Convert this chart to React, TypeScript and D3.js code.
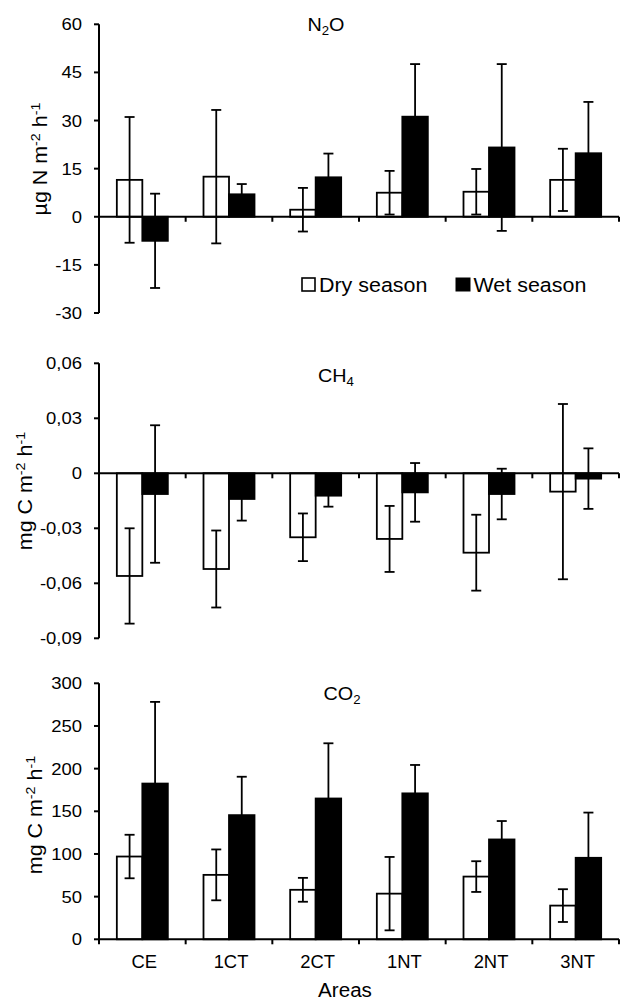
import React from "react";
import * as d3 from "d3";

const categories = ["CE", "1CT", "2CT", "1NT", "2NT", "3NT"];

const n2oDry = [11.5, 12.5, 2.2, 7.5, 7.8, 11.5];
const n2oDryErr = [19.6, 20.8, 6.8, 6.8, 7.1, 9.7];
const n2oWet = [-7.5, 7.0, 12.3, 31.2, 21.6, 19.8];
const n2oWetErr = [14.7, 3.2, 7.4, 16.4, 26.0, 16.0];

const ch4Dry = [-0.056, -0.0522, -0.0349, -0.0358, -0.0433, -0.01];
const ch4DryErr = [0.026, 0.021, 0.013, 0.018, 0.0207, 0.0478];
const ch4Wet = [-0.0113, -0.014, -0.0122, -0.0104, -0.0113, -0.0029];
const ch4WetErr = [0.0375, 0.0118, 0.006, 0.016, 0.0138, 0.0165];

const co2Dry = [97, 75.5, 58, 53.5, 73.5, 39.5];
const co2DryErr = [25.5, 29.8, 14, 43, 18, 19.2];
const co2Wet = [182.5, 145.5, 165, 171, 117, 95.5];
const co2WetErr = [95.7, 45, 64.7, 33.3, 21.6, 53];

const n2oTicks = [-30, -15, 0, 15, 30, 45, 60];
const ch4Ticks = [-0.09, -0.06, -0.03, 0, 0.03, 0.06];
const co2Ticks = [0, 50, 100, 150, 200, 250, 300];

const legendLabels = ["Dry season", "Wet season"];
const xTitle = "Areas";

const FONT = "'Liberation Sans', Arial, Helvetica, sans-serif";

function T({ x, y, size, anchor = "middle", rot = false, sx = 1.1, children }: any) {
  return (
    <text
      transform={`translate(${x},${y})${rot ? " rotate(-90)" : ""} scale(${sx},1)`}
      fontSize={size}
      textAnchor={anchor}
      fontFamily={FONT}
      fill="#000"
    >
      {children}
    </text>
  );
}

const fmtN = (v: number) => String(v);
const fmtC = (v: number) =>
  v === 0 ? "0" : (v < 0 ? "-" : "") + Math.abs(v).toFixed(2).replace(".", ",");

const x = d3.scaleBand<string>().domain(categories).range([99, 619]).padding(0);
const barW = 25.5;

function Panel({ top, bottom, domain, ticks, fmt, dry, dryErr, wet, wetErr, showCats }: any) {
  const y = d3.scaleLinear().domain(domain).range([bottom, top]);
  const y0 = y(0);
  const x0 = x.range()[0];
  const x1 = x.range()[1];
  const boundaries = categories.map((c) => (x(c) as number) + x.bandwidth());
  boundaries.unshift(x0);
  return (
    <g>
      {categories.map((c, i) => {
        const cx = (x(c) as number) + x.bandwidth() / 2;
        const dv = dry[i];
        const wv = wet[i];
        return (
          <g key={c}>
            <rect
              x={cx - barW}
              y={Math.min(y(dv), y0)}
              width={barW}
              height={Math.abs(y(dv) - y0)}
              fill="#fff"
              stroke="#000"
              strokeWidth={1.8}
            />
            <rect
              x={cx}
              y={Math.min(y(wv), y0)}
              width={barW}
              height={Math.abs(y(wv) - y0)}
              fill="#000"
              stroke="#000"
              strokeWidth={1.8}
            />
          </g>
        );
      })}
      {categories.map((c, i) => {
        const cx = (x(c) as number) + x.bandwidth() / 2;
        const items = [
          { xc: cx - barW / 2, v: dry[i], e: dryErr[i] },
          { xc: cx + barW / 2, v: wet[i], e: wetErr[i] },
        ];
        return (
          <g key={"e" + c} stroke="#000" strokeWidth={1.8}>
            {items.map((it, k) => (
              <g key={k}>
                <line x1={it.xc} x2={it.xc} y1={y(it.v + it.e)} y2={y(it.v - it.e)} />
                <line x1={it.xc - 5} x2={it.xc + 5} y1={y(it.v + it.e)} y2={y(it.v + it.e)} />
                <line x1={it.xc - 5} x2={it.xc + 5} y1={y(it.v - it.e)} y2={y(it.v - it.e)} />
              </g>
            ))}
          </g>
        );
      })}
      {/* y axis */}
      <line x1={x0} x2={x0} y1={top} y2={bottom} stroke="#000" strokeWidth={2} />
      {ticks.map((t: number) => (
        <g key={t}>
          <line x1={x0 - 5} x2={x0} y1={y(t)} y2={y(t)} stroke="#000" strokeWidth={2} />
          <T x={82} y={y(t) + 6} size={16.8} anchor="end" sx={1.1}>
            {fmt(t)}
          </T>
        </g>
      ))}
      {/* x axis at zero */}
      <line x1={x0} x2={x1} y1={y0} y2={y0} stroke="#000" strokeWidth={2} />
      {boundaries.map((b: number, i: number) => (
        <line key={i} x1={b} x2={b} y1={y0} y2={y0 + 5} stroke="#000" strokeWidth={2} />
      ))}
      {showCats &&
        categories.map((c) => (
          <T key={c} x={(x(c) as number) + x.bandwidth() / 2 + 2} y={968} size={17.5} sx={1.05}>
            {c}
          </T>
        ))}
    </g>
  );
}

export default function App() {
  return (
    <svg
      width={627}
      height={1002}
      style={{ position: "absolute", left: 0, top: 0, background: "#fff" }}
    >
      <rect x={0} y={0} width={627} height={1002} fill="#fff" />
      <Panel
        top={24.3}
        bottom={313}
        domain={[-30, 60]}
        ticks={n2oTicks}
        fmt={fmtN}
        dry={n2oDry}
        dryErr={n2oDryErr}
        wet={n2oWet}
        wetErr={n2oWetErr}
      />
      <Panel
        top={363.3}
        bottom={638.3}
        domain={[-0.09, 0.06]}
        ticks={ch4Ticks}
        fmt={fmtC}
        dry={ch4Dry}
        dryErr={ch4DryErr}
        wet={ch4Wet}
        wetErr={ch4WetErr}
      />
      <Panel
        top={683.3}
        bottom={939.3}
        domain={[0, 300]}
        ticks={co2Ticks}
        fmt={fmtN}
        dry={co2Dry}
        dryErr={co2DryErr}
        wet={co2Wet}
        wetErr={co2WetErr}
        showCats
      />

      {/* titles */}
      <T x={326} y={30.7} size={18}>
        N<tspan fontSize={12} dy={4}>2</tspan>
        <tspan dy={-4}>O</tspan>
      </T>
      <T x={336} y={382.3} size={18}>
        CH<tspan fontSize={12} dy={4}>4</tspan>
      </T>
      <T x={342} y={700} size={18}>
        CO<tspan fontSize={12} dy={4}>2</tspan>
      </T>

      {/* y labels */}
      <T x={46.5} y={159} size={19.5} rot>
        µg N m<tspan fontSize={13} dy={-7}>-2</tspan>
        <tspan dy={7}> h</tspan>
        <tspan fontSize={13} dy={-7}>-1</tspan>
      </T>
      <T x={32} y={491} size={19.5} rot>
        mg C m<tspan fontSize={13} dy={-7}>-2</tspan>
        <tspan dy={7}> h</tspan>
        <tspan fontSize={13} dy={-7}>-1</tspan>
      </T>
      <T x={42} y={815} size={19.5} rot>
        mg C m<tspan fontSize={13} dy={-7}>-2</tspan>
        <tspan dy={7}> h</tspan>
        <tspan fontSize={13} dy={-7}>-1</tspan>
      </T>

      {/* legend */}
      <rect x={302} y={278} width={13} height={13} fill="#fff" stroke="#000" strokeWidth={1.6} />
      <T x={319} y={291.5} size={19.5} anchor="start">
        {legendLabels[0]}
      </T>
      <rect x={456} y={278} width={14} height={13} fill="#000" stroke="#000" strokeWidth={1} />
      <T x={473.5} y={291.5} size={19.5} anchor="start">
        {legendLabels[1]}
      </T>

      {/* x title */}
      <T x={345} y={997} size={20} sx={1.03}>
        {xTitle}
      </T>
    </svg>
  );
}
